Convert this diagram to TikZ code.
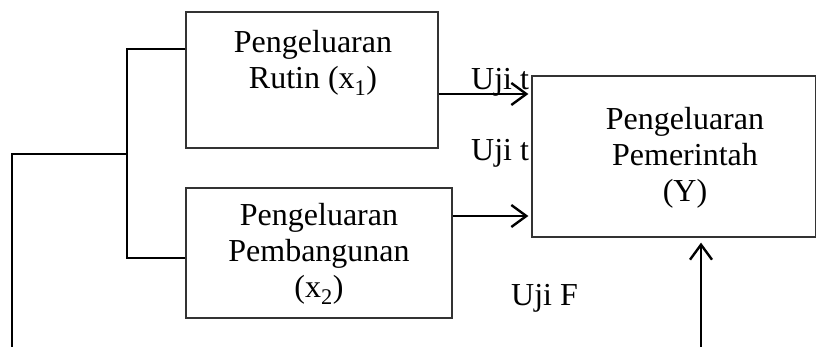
\documentclass[tikz,border=0pt]{standalone}
\usepackage{fontspec}
\setmainfont{Liberation Serif}
\usetikzlibrary{arrows.meta}
\begin{document}
\begin{tikzpicture}[x=1pt,y=-1pt,
  box/.style={draw=black!80, line width=1.3pt, inner sep=0pt},
  txt/.style={align=center, inner sep=0pt, font=\fontsize{32}{36}\selectfont},
  lbl/.style={anchor=base west, inner sep=0pt, font=\fontsize{32}{36}\selectfont},
  conn/.style={line width=1.8pt},
  arr/.style={line width=2.4pt, -{Straight Barb[length=15pt,width=22pt,line width=2.4pt]}}]
\useasboundingbox (0,0) rectangle (816,347);
% boxes
\node[box, minimum width=252pt, minimum height=136pt] (b1) at (312,80) {};
\node[box, minimum width=266pt, minimum height=130pt] (b2) at (319,253) {};
\node[box, minimum width=284pt, minimum height=161pt] (y) at (674,156.5) {};
% texts
\node[txt, anchor=base] (t1) at (313,89) {Pengeluaran\\Rutin (x\textsubscript{1})};
\node[txt, anchor=base] (t2) at (319,298) {Pengeluaran\\Pembangunan\\(x\textsubscript{2})};
\node[txt, anchor=base] (ty) at (685,202) {Pengeluaran\\Pemerintah\\(Y)};
\node[lbl] (u1) at (471,90) {Uji t};
\node[lbl] (u2) at (471,161) {Uji t};
\node[lbl] (uf) at (511,305) {Uji F};
% bracket
\coordinate (j1) at (127,49);
\coordinate (j2) at (127,258);
\coordinate (jm) at (127,154);
\coordinate (lc) at (12,154);
\coordinate (lb) at (12,347);
\coordinate (ub) at (701,347);
\draw[conn] (b1.west |- j1) -- (j1) -- (j2) -- (b2.west |- j2);
\draw[conn] (jm) -- (lc) -- (lb);
% arrows
\coordinate (a1) at (0,94);
\coordinate (a2) at (0,216);
\draw[arr, shorten >=3pt] (b1.east |- a1) -- (y.west |- a1);
\draw[arr, shorten >=3pt] (b2.east |- a2) -- (y.west |- a2);
\draw[arr, shorten >=5pt] (ub) -- (ub |- y.south);
\end{tikzpicture}
\end{document}
